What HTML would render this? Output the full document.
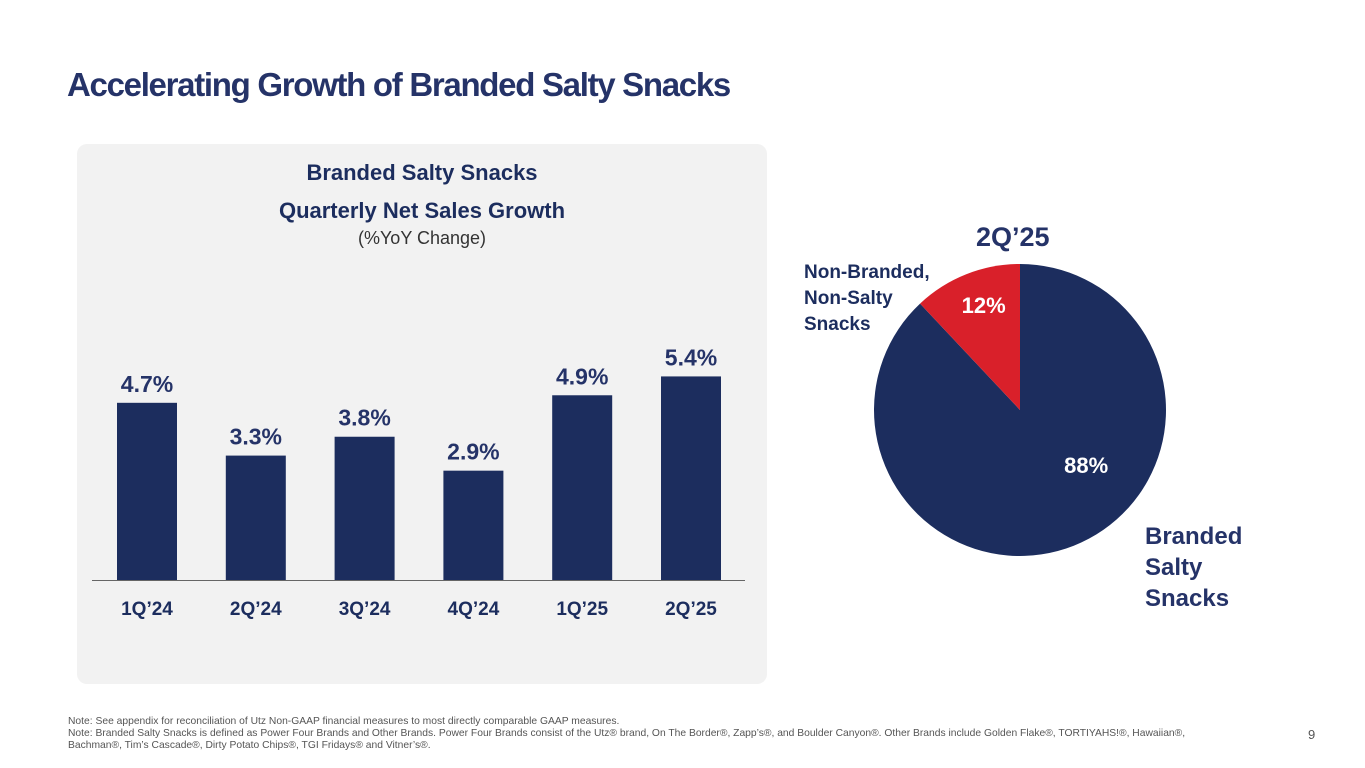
<!DOCTYPE html>
<html><head><meta charset="utf-8"><style>
body{margin:0;width:1365px;height:768px;background:#fff;font-family:"Liberation Sans",sans-serif;overflow:hidden;position:relative}
.t{position:absolute;white-space:nowrap}
</style></head><body>
<div class="t" style="left:67px;top:66px;font-size:33px;font-weight:bold;color:#253368;letter-spacing:-1.3px">Accelerating Growth of Branded Salty Snacks</div>
<div style="position:absolute;left:77px;top:144px;width:690px;height:540px;background:#f2f2f2;border-radius:10px"></div>
<div class="t" style="left:77px;width:690px;text-align:center;top:154px;font-size:22px;font-weight:bold;color:#1c2d5e;line-height:38px">Branded Salty Snacks<br>Quarterly Net Sales Growth</div>
<div class="t" style="left:77px;width:690px;text-align:center;top:228px;font-size:18px;color:#333">(%YoY Change)</div>
<svg id="bars" width="1365" height="768" style="position:absolute;left:0;top:0"></svg>
<svg id="pie" width="1365" height="768" style="position:absolute;left:0;top:0"></svg>
<div class="t" style="left:976px;top:222px;font-size:27px;font-weight:bold;color:#253368">2Q’25</div>
<div class="t" style="left:804px;top:260px;font-size:19px;font-weight:bold;color:#1c2d5e;line-height:26px">Non-Branded,<br>Non-Salty<br>Snacks</div>
<div class="t" style="left:1145px;top:521px;font-size:24px;font-weight:bold;color:#253368;line-height:31px">Branded<br>Salty<br>Snacks</div>
<div class="t" style="left:68px;top:716px;font-size:10.3px;color:#555;line-height:12px">Note: See appendix for reconciliation of Utz Non-GAAP financial measures to most directly comparable GAAP measures.<br>Note: Branded Salty Snacks is defined as Power Four Brands and Other Brands. Power Four Brands consist of the Utz® brand, On The Border®, Zapp’s®, and Boulder Canyon®. Other Brands include Golden Flake®, TORTIYAHS!®, Hawaiian®,<br>Bachman®, Tim’s Cascade®, Dirty Potato Chips®, TGI Fridays® and Vitner’s®.</div>
<div class="t" style="left:1308px;top:727px;font-size:13px;color:#555">9</div>
<script>
const categories=["1Q’24","2Q’24","3Q’24","4Q’24","1Q’25","2Q’25"];
const values=[4.7,3.3,3.8,2.9,4.9,5.4];
const valueLabels=["4.7%","3.3%","3.8%","2.9%","4.9%","5.4%"];
const pieValues=[88,12];
const pieLabels=["88%","12%"];
const NS="http://www.w3.org/2000/svg";
function mk(p,tag,a){const e=document.createElementNS(NS,tag);for(const k in a)e.setAttribute(k,a[k]);p.appendChild(e);return e;}
const bs=document.getElementById('bars');
const y0=580,ppu=37.7,x0=147,step=108.8,bw=60;
const y=v=>y0-v*ppu, x=i=>x0+i*step;
const axis=mk(bs,'line',{x1:92,x2:745,y1:y0+0.5,y2:y0+0.5,stroke:'#666','stroke-width':1});


values.forEach((v,i)=>{
 const r=mk(bs,'rect',{x:x(i)-bw/2,y:y(v),width:bw,height:y0-y(v),fill:'#1c2d5e'});
 
 
 const t=mk(bs,'text',{x:x(i),y:y(v)-11,'text-anchor':'middle','font-size':23,'font-weight':'bold',fill:'#253368'});
 t.textContent=valueLabels[i];
 
 
 const c=mk(bs,'text',{x:x(i),y:615,'text-anchor':'middle','font-size':19,'font-weight':'bold',fill:'#1c2d5e'});
 c.textContent=categories[i];
 
 
});
const ps=document.getElementById('pie');
const cx=1020,cy=410,R=146,tot=pieValues.reduce((a,b)=>a+b,0);
const colors=['#1c2d5e','#d9202a'];
let ang=0;
const pt=(a,r)=>[cx+r*Math.sin(a),cy-r*Math.cos(a)];
pieValues.forEach((v,i)=>{
 const a1=ang,a2=ang+v/tot*2*Math.PI;ang=a2;
 const [sx,sy]=pt(a1,R),[ex,ey]=pt(a2,R);
 const p=mk(ps,'path',{d:`M${cx},${cy}L${sx},${sy}A${R},${R} 0 ${a2-a1>Math.PI?1:0} 1 ${ex},${ey}Z`,fill:colors[i]});
 
 
 const m=(a1+a2)/2,[lx,ly]=pt(m,i==0?R*0.45:R*0.75);
 const t=mk(ps,'text',{x:i==0?lx+42:lx+4,y:i==0?ly+2:ly+5,'text-anchor':'middle','font-size':22,'font-weight':'bold',fill:'#fff'});
 t.textContent=pieLabels[i];
 
 
});
</script>
</body></html>
